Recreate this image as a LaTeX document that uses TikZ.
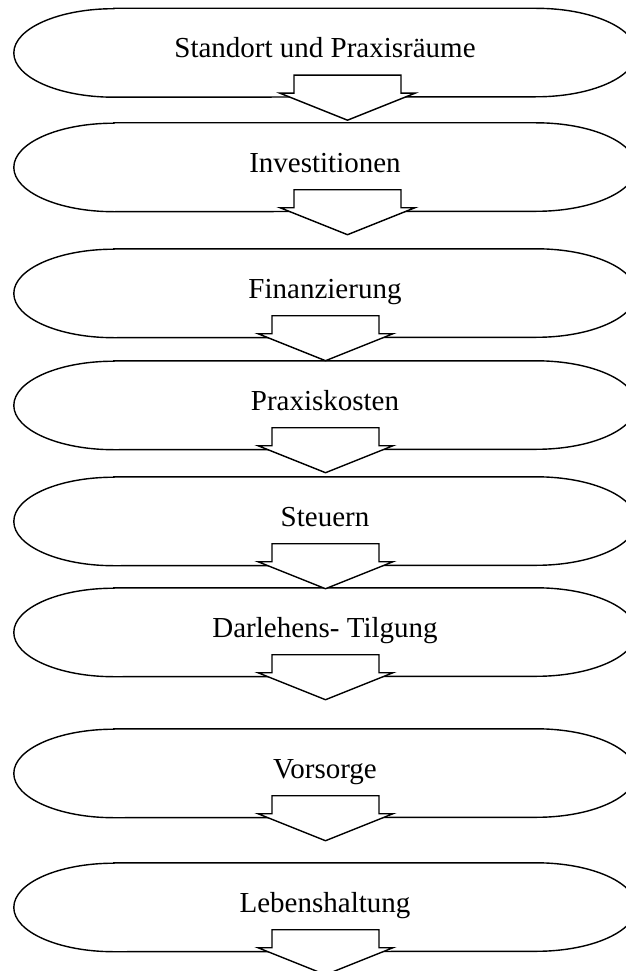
\documentclass[tikz,border=0pt]{standalone}
\usepackage{fontspec}
\setmainfont{Liberation Serif}
\tikzset{
  stepnode/.style={minimum width=622pt, minimum height=88.5pt, inner sep=0pt,
    text height=49pt, text depth=39.5pt, font=\fontsize{29pt}{34pt}\selectfont},
  outline/.style={draw=black, line width=1.4pt, fill=white},
  barrow/.style={draw=black, line width=1.4pt, fill=white, line join=miter}
}
\newcommand\termoutline[1]{%
  \draw[outline] ([xshift=100pt]#1.north west) -- ([xshift=-100pt]#1.north east)
    arc[start angle=90, end angle=-90, x radius=100pt, y radius=44.25pt]
    -- ([xshift=100pt]#1.south west)
    arc[start angle=270, end angle=90, x radius=100pt, y radius=44.25pt] -- cycle;}
\newcommand\blockarr[2]{%
  \draw[barrow] ([shift={(#2-53.5pt,22pt)}]#1.south) -- ++(0pt,-18pt) -- ++(-14pt,0pt)
    -- ++(67.5pt,-27pt) -- ++(67.5pt,27pt) -- ++(-14pt,0pt) -- ++(0pt,18pt) -- cycle;}
\begin{document}
\begin{tikzpicture}[x=1pt,y=-1pt]
\useasboundingbox (0,0) rectangle (625,971);
\node[stepnode] (s1) at (325,52.75) {};
\node[stepnode] (s2) at (325,167.25) {};
\node[stepnode] (s3) at (325,293.25) {};
\node[stepnode] (s4) at (325,405.25) {};
\node[stepnode] (s5) at (325,521.25) {};
\node[stepnode] (s6) at (325,632.25) {};
\node[stepnode] (s7) at (325,773.25) {};
\node[stepnode] (s8) at (325,907.25) {};
\termoutline{s1}\termoutline{s2}\termoutline{s3}\termoutline{s4}
\termoutline{s5}\termoutline{s6}\termoutline{s7}\termoutline{s8}
\node[stepnode] (t1) at (s1) {Standort und Praxisräume};
\node[stepnode] (t2) at (s2) {Investitionen};
\node[stepnode] (t3) at (s3) {Finanzierung};
\node[stepnode] (t4) at (s4) {Praxiskosten};
\node[stepnode] (t5) at (s5) {Steuern};
\node[stepnode] (t6) at (s6) {Darlehens- Tilgung};
\node[stepnode] (t7) at (s7) {Vorsorge};
\node[stepnode] (t8) at (s8) {Lebenshaltung};
\blockarr{s1}{22.5pt}
\blockarr{s2}{22.5pt}
\blockarr{s3}{0.5pt}
\blockarr{s4}{0.5pt}
\blockarr{s5}{0.5pt}
\blockarr{s6}{0.5pt}
\blockarr{s7}{0.5pt}
\blockarr{s8}{0.5pt}
\end{tikzpicture}
\end{document}
